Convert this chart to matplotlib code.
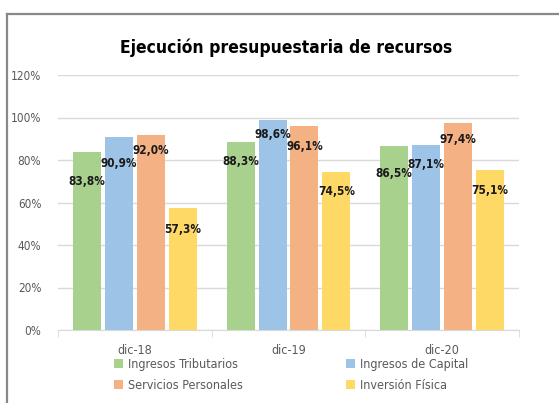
import matplotlib
matplotlib.use("Agg")
import matplotlib.pyplot as plt
from matplotlib.patches import Patch
from matplotlib.lines import Line2D
import numpy as np

plt.rcParams['font.family'] = ['DejaVu Sans']
plt.rcParams['font.stretch'] = 'condensed'

categories = ["dic-18", "dic-19", "dic-20"]
series_names = ["Ingresos Tributarios", "Ingresos de Capital",
                "Servicios Personales", "Inversión Física"]
ingresos_tributarios = [83.8, 88.3, 86.5]
ingresos_capital = [90.9, 98.6, 87.1]
servicios_personales = [92.0, 96.1, 97.4]
inversion_fisica = [57.3, 74.5, 75.1]
yticks = [0, 20, 40, 60, 80, 100, 120]

series = [ingresos_tributarios, ingresos_capital, servicios_personales, inversion_fisica]
colors = ['#A9D18E', '#9DC3E6', '#F4B183', '#FFD966']
# how far (px) each data label sits below its bar top, per series
label_drop = [[30, 19, 27], [27, 14, 20], [16, 21, 16], [21, 20, 20]]

fig = plt.figure(figsize=(5.59, 4.03), dpi=100)
ax = fig.add_axes([58/559, 1-330/403, 461/559, 255/403])

x = np.arange(len(categories))
pitch = 0.208
width = 0.182
for i, (vals, c) in enumerate(zip(series, colors)):
    pos = x + (i - 1.5) * pitch
    ax.bar(pos, vals, width=width, color=c, zorder=2)
    for p, v, d in zip(pos, vals, label_drop[i]):
        ax.annotate(f"{v:.1f}%".replace(".", ","), (p, v), xytext=(0, -d),
                    textcoords="offset pixels", ha="center", va="center",
                    fontsize=8.5, fontweight="bold", color="#1a1a1a", zorder=3)

ax.set_xlim(-0.5, 2.5)
ax.set_ylim(0, 120)
ax.set_yticks(yticks)
ax.set_yticklabels([f"{t}%" for t in yticks])
ax.yaxis.grid(True, color="#D9D9D9", linewidth=1, zorder=0)
ax.set_axisbelow(True)
ax.tick_params(axis="y", length=0, pad=12, labelsize=8.5, labelcolor="#595959")
ax.set_xticks(x)
ax.set_xticklabels(categories)
ax.set_xticks([-0.5, 0.5, 1.5, 2.5], minor=True)
ax.tick_params(axis="x", which="major", length=0, pad=10, labelsize=9, labelcolor="#595959")
ax.tick_params(axis="x", which="minor", length=5, color="#D9D9D9")
for s in ["top", "right", "left"]:
    ax.spines[s].set_visible(False)
ax.spines["bottom"].set_color("#D9D9D9")

fig.text(286/559, 1-48/403, "Ejecución presupuestaria de recursos",
         ha="center", va="center", fontsize=12.5, fontweight="bold", color="black")

# legend: column-wise fill, so reorder to match the two-column layout
order = [0, 2, 1, 3]
handles = [Patch(facecolor=colors[k], edgecolor="none") for k in order]
labels = [series_names[k] for k in order]
fig.legend(handles, labels, ncol=2, loc="upper left", bbox_to_anchor=(114/559, 1-358/403),
           frameon=False, fontsize=9, handlelength=0.7, handleheight=0.7,
           handletextpad=0.4, columnspacing=8.3, labelspacing=0.62, labelcolor="#595959",
           borderpad=0, borderaxespad=0)

# chart frame
fig.add_artist(Line2D([6.5/559, 6.5/559], [0, 1-13.5/403], transform=fig.transFigure,
                      color="#888888", linewidth=1.6))
fig.add_artist(Line2D([6.5/559, 1], [1-13.5/403, 1-13.5/403], transform=fig.transFigure,
                      color="#888888", linewidth=1.6))

fig.savefig("out.png", dpi=100)
